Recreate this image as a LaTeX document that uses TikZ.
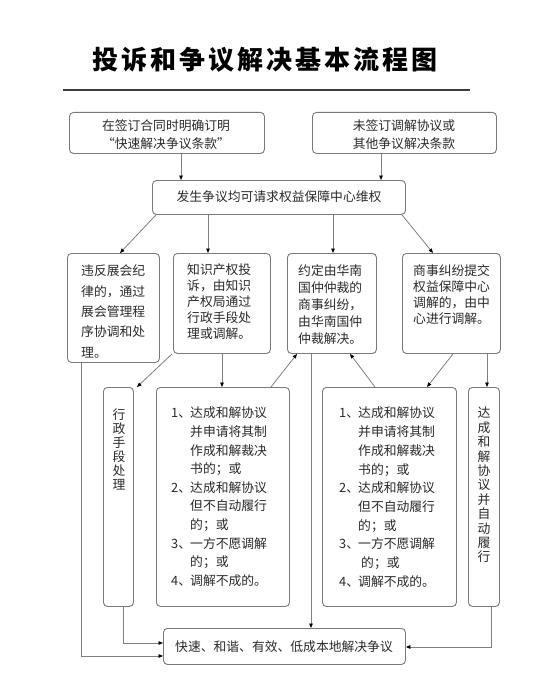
\documentclass[tikz,border=0pt]{standalone}
\usepackage{fontspec}
\newfontfamily\cjk{Noto Sans CJK SC}
\usetikzlibrary{arrows.meta}
\definecolor{boxgray}{HTML}{7A7A7A}
\definecolor{linegray}{HTML}{808080}
\definecolor{textcol}{HTML}{2A2A2A}
\definecolor{rulecol}{HTML}{3C3C3C}
\newcommand\tf[1]{\cjk\fontsize{12.8bp}{#1bp}\selectfont}
\newcommand\nb[1]{\makebox[19bp][l]{#1}}
\begin{document}
\begin{tikzpicture}[x=1bp,y=-1bp,
  box/.style={draw=boxgray, line width=0.9bp, rounded corners=4bp, inner sep=0pt, anchor=north west},
  txt/.style={inner sep=0pt, anchor=north west, align=left, text=textcol},
  ctxt/.style={inner sep=0pt, anchor=center, align=center, text=textcol},
  vtxt/.style={inner sep=0pt, anchor=north, align=center, text=textcol},
  conn/.style={draw=linegray, line width=0.8bp, -{Triangle[length=4.5bp,width=3.6bp,color=black]}},
]
\useasboundingbox (0,0) rectangle (553,681);
\fill[white] (0,0) rectangle (553,681);

% title and rule
\node[inner sep=0pt, text=black, font=\cjk\bfseries\fontsize{26bp}{26bp}\selectfont] (title) at (265,60)
  {投\hspace{3bp}诉\hspace{3bp}和\hspace{3bp}争\hspace{3bp}议\hspace{3bp}解\hspace{3bp}决\hspace{3bp}基\hspace{3bp}本\hspace{3bp}流\hspace{3bp}程\hspace{3bp}图};
\coordinate (rl) at (63,90);
\coordinate (rr) at (470,90);
\draw[draw=rulecol, line width=1.2bp] (rl) -- (rr);

% boxes
\node[box, minimum width=195bp, minimum height=41bp] (a) at (69,112) {};
\node[box, minimum width=184bp, minimum height=41bp] (b) at (312,112) {};
\node[box, minimum width=253bp, minimum height=34bp] (c) at (152,180) {};
\node[box, minimum width=92bp, minimum height=109bp] (d1) at (67,253) {};
\node[box, minimum width=97bp, minimum height=100bp] (d2) at (173,253) {};
\node[box, minimum width=89bp, minimum height=100bp] (d3) at (287,253) {};
\node[box, minimum width=98bp, minimum height=100bp] (d4) at (402,253) {};
\node[box, minimum width=30bp, minimum height=219bp] (e1) at (103,387) {};
\node[box, minimum width=133bp, minimum height=219bp] (e2) at (156,387) {};
\node[box, minimum width=134bp, minimum height=219bp] (e3) at (322,387) {};
\node[box, minimum width=31bp, minimum height=219bp] (e4) at (468,387) {};
\node[box, minimum width=242bp, minimum height=36bp] (f) at (163,628) {};

% texts
\node[ctxt, font=\tf{17.5}] (at) at (166,134.5) {在签订合同时明确订明\\“快速解决争议条款”};
\node[ctxt, font=\tf{17.5}] (bt) at (404,134.5) {未签订调解协议或\\其他争议解决条款};
\node[ctxt, font=\tf{16}] (ct) at (279,197) {发生争议均可请求权益保障中心维权};
\node[txt, font=\tf{20.3}] (d1t) at (81,265) {违反展会纪\\律的，通过\\展会管理程\\序协调和处\\理。};
\node[txt, font=\tf{15.8}] (d2t) at (187,264) {知识产权投\\诉，由知识\\产权局通过\\行政手段处\\理或调解。};
\node[txt, font=\tf{17}] (d3t) at (298,264) {约定由华南\\国仲仲裁的\\商事纠纷，\\由华南国仲\\仲裁解决。};
\node[txt, font=\tf{16}] (d4t) at (413,264) {商事纠纷提交\\权益保障中心\\调解的，由中\\心进行调解。};
\node[vtxt, font=\tf{14}] (e1t) at (119,409) {行\\政\\手\\段\\处\\理};
\node[txt, font=\tf{18.6}] (e2t) at (171,407) {\nb{1、}达成和解协议\\\nb{}并申请将其制\\\nb{}作成和解裁决\\\nb{}书的；或\\\nb{2、}达成和解协议\\\nb{}但不自动履行\\\nb{}的；或\\\nb{3、}一方不愿调解\\\nb{}的；或\\\nb{4、}调解不成的。};
\node[txt, font=\tf{18.7}] (e3t) at (339,407) {\nb{1、}达成和解协议\\\nb{}并申请将其制\\\nb{}作成和解裁决\\\nb{}书的；或\\\nb{2、}达成和解协议\\\nb{}但不自动履行\\\nb{}的；或\\\nb{3、}一方不愿调解\\\nb{}\hspace{3bp}的；或\\\nb{4、}调解不成的。};
\node[vtxt, font=\tf{14.4}] (e4t) at (484,407) {达\\成\\和\\解\\协\\议\\并\\自\\动\\履\\行};
\node[ctxt, font=\tf{16}] (ft) at (284,647) {快速、和谐、有效、低成本地解决争议};

% connectors
\draw[conn] (181,0 |- a.south) -- (181,0 |- c.north);
\draw[conn] (381,0 |- b.south) -- (381,0 |- c.north);
\draw[conn] (156,0 |- c.south) -- (120,0 |- d1.north);
\draw[conn] (208,0 |- c.south) -- (208,0 |- d2.north);
\draw[conn] (333,0 |- c.south) -- (333,0 |- d3.north);
\draw[conn] (402,0 |- c.south) -- (433,0 |- d4.north);
\draw[conn] (172,0 |- d2.south) -- (137,0 |- e1.north);
\draw[conn] (222,0 |- d2.south) -- (222,0 |- e2.north);
\draw[conn] (271,0 |- e2.north) -- (297,0 |- d3.south);
\draw[conn] (311,0 |- d3.south) -- (311,0 |- f.north);
\draw[conn] (375,0 |- e3.north) -- (350,0 |- d3.south);
\draw[conn] (453,0 |- d4.south) -- (427,0 |- e3.north);
\draw[conn] (487,0 |- d4.south) -- (487,0 |- e4.north);
\draw[conn] (81,0 |- d1.south) |- (f.west |- 0,656);
\draw[conn] (123,0 |- e1.south) |- (f.west |- 0,643);
\draw[conn] (491,0 |- e4.south) |- (f.east |- 0,647);
\end{tikzpicture}
\end{document}
